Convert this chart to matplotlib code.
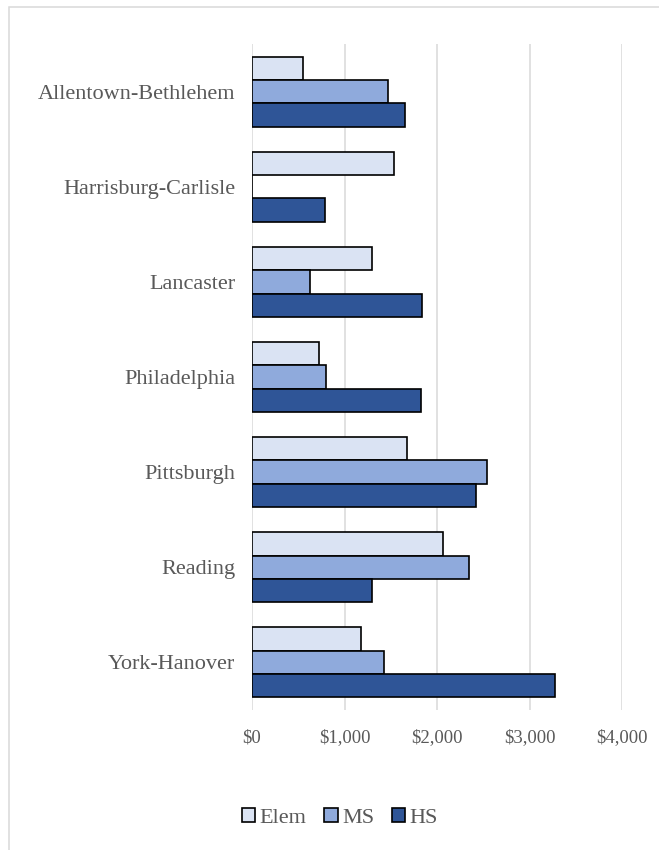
import matplotlib
matplotlib.use("Agg")

import matplotlib.pyplot as plt
from matplotlib.patches import Patch, Rectangle
import numpy as np

# data
regions = ["Allentown-Bethlehem", "Harrisburg-Carlisle", "Lancaster",
           "Philadelphia", "Pittsburgh", "Reading", "York-Hanover"]
elem = [548, 1535, 1297, 728, 1672, 2068, 1178]
ms = [1470, 0, 624, 797, 2544, 2349, 1430]
hs = [1654, 786, 1838, 1824, 2425, 1301, 3279]
series_names = ["Elem", "MS", "HS"]
xticks = [0, 1000, 2000, 3000, 4000]

colors = ["#DAE3F3", "#8FAADC", "#2F5597"]  # elem, ms, hs
text_col = "#595959"
grid_col = "#D9D9D9"

plt.rcParams["font.family"] = ["Liberation Serif", "DejaVu Serif"]

W, H = 659, 850
fig = plt.figure(figsize=(W / 100, H / 100), dpi=100)

# light gray chart frame (left and top visible, rest runs off the image)
fig.patches.append(Rectangle((8.5 / W, -0.1), 1.2, 1 - 6.5 / H + 0.1,
                             transform=fig.transFigure, fill=False,
                             edgecolor=grid_col, linewidth=1.1))

ax = fig.add_axes([252 / W, 1 - 710 / H, 370 / W, (710 - 44) / H])

y = np.arange(len(regions))
h = 0.245
for k, vals in enumerate([elem, ms, hs]):
    ax.barh(y + (k - 1) * h, vals, height=h, color=colors[k],
            edgecolor="black", linewidth=1.2, zorder=3)

ax.set_xlim(0, 4000)
ax.set_ylim(len(regions) - 0.5, -0.5)
ax.set_xticks(xticks)
ax.set_xticklabels(["${:,}".format(v) for v in xticks])
ax.set_yticks(y)
ax.set_yticklabels(regions)
ax.tick_params(axis="x", length=0, pad=14, labelsize=13.5, labelcolor=text_col)
ax.tick_params(axis="y", length=0, pad=12, labelsize=16, labelcolor=text_col)
ax.xaxis.grid(True, color=grid_col, linewidth=1.1, zorder=0)
for s in ax.spines.values():
    s.set_visible(False)

handles = [Patch(facecolor=c, edgecolor="black", linewidth=1.2) for c in colors]
fig.legend(handles, series_names, loc="center", ncol=3,
           bbox_to_anchor=(340 / W, 1 - 818 / H), frameon=False,
           fontsize=16, labelcolor=text_col, handlelength=0.6,
           handleheight=0.6, handletextpad=0.2, columnspacing=0.8)

fig.savefig("out.png", dpi=100)
